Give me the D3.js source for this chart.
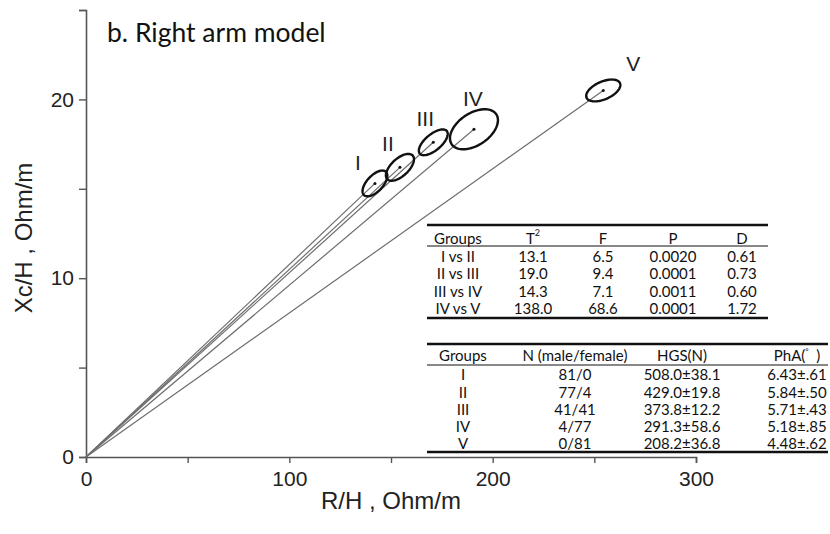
<!DOCTYPE html>
<html>
<head>
<meta charset="utf-8">
<script src="https://cdn.jsdelivr.net/npm/d3@7"></script>
<style>
  body { margin: 0; background: #fff; }
  svg { display: block; }
</style>
</head>
<body>
<div id="chart"></div>
<script>
// Right arm model: group mean vectors with confidence ellipses

// Group means (R/H, Xc/H) and ellipse half-extents in data units
const groups = ['I', 'II', 'III', 'IV', 'V'];
const meanR = [142.1, 154.4, 170.8, 190.8, 254.4];
const meanXc = [15.3, 16.2, 17.6, 18.33, 20.5];
const spreadR = [6.1, 6.9, 7.1, 11.8, 8.4];
const spreadXc = [0.72, 0.75, 0.72, 1.12, 0.61];
const corr = [0.6, 0.6, 0.65, 0.45, 0.5];

// Tick values
const xTicks = [0, 50, 100, 150, 200, 250, 300];
const yTicks = [0, 5, 10, 15, 20, 25];

// Table 1: pairwise tests
const compHeader = ['Groups', 'T2', 'F', 'P', 'D'];
const comparisons = ['I vs II', 'II vs III', 'III vs IV', 'IV vs V'];
const tSquare = ['13.1', '19.0', '14.3', '138.0'];
const fValue = ['6.5', '9.4', '7.1', '68.6'];
const pValue = ['0.0020', '0.0001', '0.0011', '0.0001'];
const dValue = ['0.61', '0.73', '0.60', '1.72'];

// Table 2: group description
const groupHeader = ['Groups', 'N (male/female)', 'HGS(N)', 'PhA'];
const nMaleFemale = ['81/0', '77/4', '41/41', '4/77', '0/81'];
const hgs = ['508.0±38.1', '429.0±19.8', '373.8±12.2', '291.3±58.6', '208.2±36.8'];
const pha = ['6.43±.61', '5.84±.50', '5.71±.43', '5.18±.85', '4.48±.62'];

const W = 830, H = 534;
const svg = d3.select('#chart').append('svg')
    .attr('width', W)
    .attr('height', H);

const x = d3.scaleLinear().domain([0, 300]).range([86, 696]);
const y = d3.scaleLinear().domain([0, 25]).range([457, 10]);

const axisColor = '#555';

// x axis
const gx = svg.append('g')
    .attr('transform', 'translate(0,' + y(0) + ')')
    .call(d3.axisBottom(x).tickValues(xTicks).tickSizeOuter(0).tickSize(6)
        .tickFormat(d => d % 100 === 0 ? d : ''));
gx.select('.domain').attr('stroke', axisColor).attr('stroke-width', 1.6);
gx.selectAll('.tick line').attr('stroke', axisColor).attr('stroke-width', 1.4);
gx.selectAll('.tick text')
    .attr('fill', '#222')
    .attr('dy', '0.95em')
    .style('font', '21px "Liberation Sans", Arial, sans-serif');

// y axis
const gy = svg.append('g')
    .attr('transform', 'translate(' + x(0) + ',0)')
    .call(d3.axisLeft(y).tickValues(yTicks).tickSizeOuter(0).tickSize(7)
        .tickFormat(d => (d % 10 === 0) ? d : ''));
gy.select('.domain').attr('stroke', axisColor).attr('stroke-width', 1.6);
gy.selectAll('.tick line').attr('stroke', axisColor).attr('stroke-width', 1.4);
gy.selectAll('.tick text')
    .attr('fill', '#222')
    .attr('x', -12)
    .style('font', '21px "Liberation Sans", Arial, sans-serif');

// axis titles
svg.append('text')
    .attr('x', 391)
    .attr('y', 509)
    .attr('text-anchor', 'middle')
    .attr('fill', '#222')
    .style('font', '24px "Liberation Sans", Arial, sans-serif')
    .text('R/H , Ohm/m');

svg.append('text')
    .attr('transform', 'translate(32,238) rotate(-90)')
    .attr('text-anchor', 'middle')
    .attr('fill', '#222')
    .style('font', '24px "Liberation Sans", Arial, sans-serif')
    .text('Xc/H , Ohm/m');

// title
svg.append('text')
    .attr('x', 107)
    .attr('y', 42)
    .attr('fill', '#111')
    .style('font', '26.5px Lato, "Open Sans", sans-serif')
    .text('b. Right arm model');

// build data rows
const data = groups.map((g, i) => ({
    name: g, r: meanR[i], xc: meanXc[i],
    sr: spreadR[i], sxc: spreadXc[i], rho: corr[i]
}));

// vectors from origin to each mean
svg.selectAll('.vec')
    .data(data)
    .enter()
    .append('line')
    .attr('class', 'vec')
    .attr('x1', x(0)).attr('y1', y(0))
    .attr('x2', d => x(d.r)).attr('y2', d => y(d.xc))
    .attr('stroke', '#6e6e6e')
    .attr('stroke-width', 1.2);

// ellipses
const ellipse = d3.line()
    .x(p => x(p[0]))
    .y(p => y(p[1]))
    .curve(d3.curveLinearClosed);

function ellipsePoints(d) {
    const pts = [];
    const s = Math.sqrt(1 - d.rho * d.rho);
    for (let k = 0; k < 90; k++) {
        const t = k / 90 * 2 * Math.PI;
        pts.push([d.r + d.sr * Math.cos(t),
                  d.xc + d.sxc * (d.rho * Math.cos(t) + s * Math.sin(t))]);
    }
    return pts;
}

svg.selectAll('.ell')
    .data(data)
    .enter()
    .append('path')
    .attr('class', 'ell')
    .attr('d', d => ellipse(ellipsePoints(d)))
    .attr('fill', 'none')
    .attr('stroke', '#111')
    .attr('stroke-width', 2.4);

svg.selectAll('.dot')
    .data(data)
    .enter()
    .append('circle')
    .attr('cx', d => x(d.r))
    .attr('cy', d => y(d.xc))
    .attr('r', 1.5)
    .attr('fill', '#111');

// group labels, offset in px from the mean
const labelShift = [[-17, -21], [-12, -24], [-8, -24], [-1, -31], [30, -27]];
svg.selectAll('.glab')
    .data(data)
    .enter()
    .append('text')
    .attr('x', (d, i) => x(d.r) + labelShift[i][0])
    .attr('y', (d, i) => y(d.xc) + labelShift[i][1])
    .attr('text-anchor', 'middle')
    .attr('dominant-baseline', 'central')
    .attr('fill', '#222')
    .style('font', '21px "Liberation Sans", Arial, sans-serif')
    .text(d => d.name);

// ---- tables ----
const tableFont = '15px Lato, "Open Sans", sans-serif';

function rule(y0, x1, x2, w) {
    svg.append('line')
        .attr('x1', x1).attr('x2', x2)
        .attr('y1', y0).attr('y2', y0)
        .attr('stroke', '#111')
        .attr('stroke-width', w);
}

function cell(cx, cy, txt) {
    return svg.append('text')
        .attr('x', cx)
        .attr('y', cy)
        .attr('text-anchor', 'middle')
        .attr('dominant-baseline', 'central')
        .attr('fill', '#111')
        .style('font', tableFont)
        .text(txt);
}

// table 1
const t1Cols = [458, 533, 603, 673, 742];
rule(225, 427, 768, 2.6);
rule(246, 427, 768, 1);
rule(318, 427, 768, 2.6);
compHeader.forEach((h, j) => {
    if (h === 'T2') {
        const t = cell(t1Cols[j], 238, 'T');
        t.append('tspan').attr('dy', -6).style('font-size', '9px').text('2');
    } else {
        cell(t1Cols[j], 238, h);
    }
});
const t1Rows = d3.range(comparisons.length).map(i => 256 + i * 17.3);
comparisons.forEach((c, i) => {
    cell(t1Cols[0], t1Rows[i], c);
    cell(t1Cols[1], t1Rows[i], tSquare[i]);
    cell(t1Cols[2], t1Rows[i], fValue[i]);
    cell(t1Cols[3], t1Rows[i], pValue[i]);
    cell(t1Cols[4], t1Rows[i], dValue[i]);
});

// table 2
const t2Cols = [463, 575, 682, 797];
rule(344, 427, 828, 2.6);
rule(365, 427, 828, 1);
rule(452, 427, 828, 2.6);
groupHeader.forEach((h, j) => {
    if (h === 'PhA') {
        const t = cell(t2Cols[j], 355, 'PhA(');
        t.append('tspan').attr('dy', -4).style('font-size', '8px').text('°');
        t.append('tspan').attr('dy', 4).text('\u2002)');
    } else {
        cell(t2Cols[j], 355, h);
    }
});
const t2Rows = d3.range(groups.length).map(i => 374.3 + i * 17.2);
groups.forEach((g, i) => {
    cell(t2Cols[0], t2Rows[i], g);
    cell(t2Cols[1], t2Rows[i], nMaleFemale[i]);
    cell(t2Cols[2], t2Rows[i], hgs[i]);
    cell(t2Cols[3], t2Rows[i], pha[i]);
});
</script>
</body>
</html>
